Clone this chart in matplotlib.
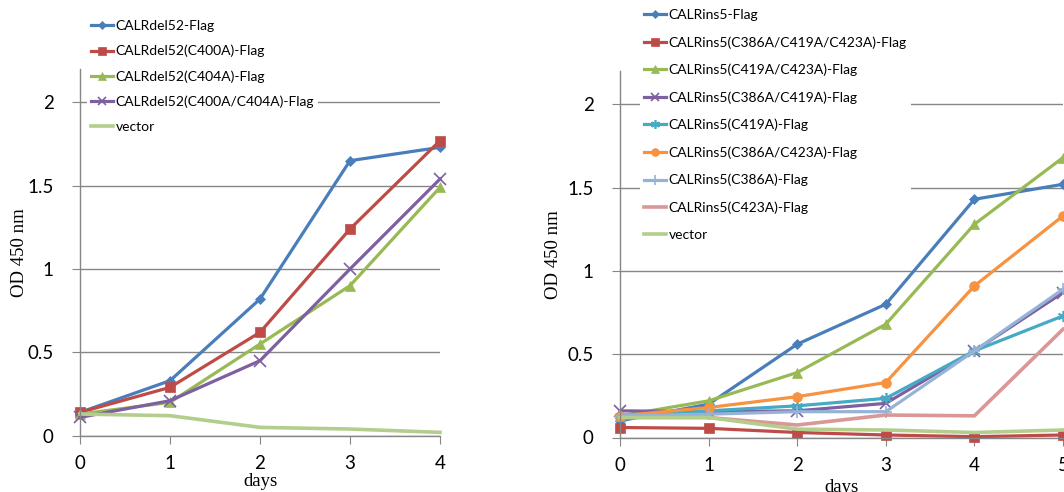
import matplotlib
matplotlib.use("Agg")
import matplotlib.pyplot as plt

days_left = [0, 1, 2, 3, 4]
left_labels = ["CALRdel52-Flag", "CALRdel52(C400A)-Flag", "CALRdel52(C404A)-Flag",
               "CALRdel52(C400A/C404A)-Flag", "vector"]
left_vals = [
    [0.14, 0.33, 0.82, 1.65, 1.73],
    [0.14, 0.29, 0.62, 1.24, 1.77],
    [0.13, 0.20, 0.55, 0.90, 1.49],
    [0.11, 0.21, 0.45, 1.00, 1.54],
    [0.13, 0.12, 0.05, 0.04, 0.02],
]

days_right = [0, 1, 2, 3, 4, 5]
right_labels = ["CALRins5-Flag", "CALRins5(C386A/C419A/C423A)-Flag", "CALRins5(C419A/C423A)-Flag",
                "CALRins5(C386A/C419A)-Flag", "CALRins5(C419A)-Flag", "CALRins5(C386A/C423A)-Flag",
                "CALRins5(C386A)-Flag", "CALRins5(C423A)-Flag", "vector"]
right_vals = [
    [0.10, 0.20, 0.56, 0.80, 1.43, 1.52],
    [0.06, 0.055, 0.03, 0.015, 0.005, 0.015],
    [0.13, 0.22, 0.39, 0.68, 1.28, 1.68],
    [0.16, 0.155, 0.16, 0.205, 0.52, 0.87],
    [0.13, 0.16, 0.19, 0.235, 0.52, 0.73],
    [0.13, 0.18, 0.245, 0.33, 0.91, 1.33],
    [0.13, 0.14, 0.155, 0.155, 0.52, 0.89],
    [0.12, 0.12, 0.075, 0.135, 0.13, 0.65],
    [0.12, 0.12, 0.05, 0.045, 0.03, 0.045],
]

left_styles = [("#4A7EBB", "D", 5), ("#BE4B48", "s", 7), ("#98B954", "^", 7),
               ("#7D60A0", "x", 8), ("#B3CE8C", None, 0)]
right_styles = [("#4A7EBB", "D", 5), ("#BE4B48", "s", 7), ("#98B954", "^", 7),
                ("#7D60A0", "x", 8), ("#46AAC5", "*", 0), ("#F69240", "o", 7),
                ("#95B3D7", "+", 9), ("#D99795", None, 0), ("#B3CE8C", None, 0)]

W, H = 1064, 492
fig = plt.figure(figsize=(W / 100, H / 100), dpi=100)

tickfont = "Lato"
serif = "Liberation Serif"
gridc = "#868686"


def make_axes(px_left, px_right, px_bottom, px_top):
    return fig.add_axes([px_left / W, 1 - px_bottom / H,
                         (px_right - px_left) / W, (px_bottom - px_top) / H])


def style(ax, xmax, px_left, px_right, px_ylabel, px_bottom, px_top, px_xlabel):
    ax.set_ylim(0, 2.2)
    ax.set_xlim(0, xmax)
    ax.set_yticks([0, 0.5, 1, 1.5, 2])
    ax.set_yticklabels(["0", "0.5", "1", "1.5", "2"])
    ax.set_xticks(range(xmax + 1))
    ax.grid(axis="y", color=gridc, lw=1.0)
    ax.set_axisbelow(True)
    for s in ["top", "right"]:
        ax.spines[s].set_visible(False)
    for s in ["left", "bottom"]:
        ax.spines[s].set_color(gridc)
        ax.spines[s].set_linewidth(1.0)
    ax.tick_params(axis="both", direction="out", length=6, color=gridc, labelsize=13.5)
    ax.tick_params(axis="x", pad=8)
    ax.tick_params(axis="y", pad=13)
    for t in ax.get_xticklabels() + ax.get_yticklabels():
        t.set_fontfamily(tickfont)
    ax.set_ylabel("OD 450 nm", fontfamily=serif, fontsize=13.5)
    ax.yaxis.set_label_coords((px_ylabel - px_left) / (px_right - px_left), 0.5)
    ax.set_xlabel("days", fontfamily=serif, fontsize=13.5)
    ax.xaxis.set_label_coords(0.5, (px_bottom - px_xlabel) / (px_bottom - px_top))


def plot_series(ax, x, vals, labels, styles):
    handles = []
    for v, lab, (c, m, ms) in zip(vals, labels, styles):
        lw = 2.3
        if m is None:
            lw = 2.6
        mew = 1.2 if m in ("x", "+", "*") else 0.5
        if m == "*":
            h, = ax.plot(x, v, color=c, lw=lw, marker=(6, 2, 0), ms=8, mew=1.2,
                         label=lab, clip_on=False)
        else:
            h, = ax.plot(x, v, color=c, lw=lw, marker=m, ms=ms, mew=mew,
                         mec=c, mfc=c, label=lab, clip_on=False)
        handles.append(h)
    return handles


axL = make_axes(80, 440, 435.7, 69)
style(axL, 4, 80, 440, 20, 435.7, 69, 482)
axL.xaxis.label.set_va("center")
axL.yaxis.label.set_va("center")
hL = plot_series(axL, days_left, left_vals, left_labels, left_styles)

axR = make_axes(620, 1063, 437.5, 71)
style(axR, 5, 620, 1063, 553, 437.5, 71, 487)
axR.xaxis.label.set_va("center")
axR.yaxis.label.set_va("center")
hR = plot_series(axR, days_right, right_vals, right_labels, right_styles)

legL = fig.legend(handles=hL, labels=left_labels, loc="upper left",
                  bbox_to_anchor=(87 / W, 1 - 16 / H), frameon=True, fancybox=False,
                  facecolor="white", edgecolor="none", framealpha=1,
                  prop={"family": tickfont, "size": 10}, handlelength=1.6,
                  handletextpad=0.15, labelspacing=0.92, borderpad=0.3,
                  borderaxespad=0, markerscale=0.8)
legR = fig.legend(handles=hR, labels=right_labels, loc="upper left",
                  bbox_to_anchor=(640 / W, 1 - 5 / H), frameon=True, fancybox=False,
                  facecolor="white", edgecolor="none", framealpha=1,
                  prop={"family": tickfont, "size": 10}, handlelength=1.6,
                  handletextpad=0.15, labelspacing=1.08, borderpad=0.3,
                  borderaxespad=0, markerscale=0.8)

fig.savefig("out.png", dpi=100)
